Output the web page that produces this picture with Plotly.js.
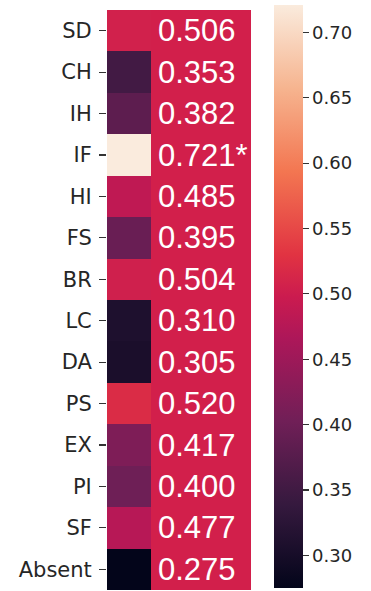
<!DOCTYPE html>
<html>
<head>
<meta charset="utf-8">
<script src="https://cdn.plot.ly/plotly-3.0.1.min.js"></script>
<style>html,body{margin:0;padding:0;background:#fff;}#chart{width:371px;height:591px;}</style>
</head>
<body>
<div id="chart"></div>
<script>
const rows = ['SD','CH','IH','IF','HI','FS','BR','LC','DA','PS','EX','PI','SF','Absent'];
const values = [0.506,0.353,0.382,0.721,0.485,0.395,0.504,0.310,0.305,0.520,0.417,0.400,0.477,0.275];
const marks = ['','','','*','','','','','','','','','',''];
const cbTicks = [0.30,0.35,0.40,0.45,0.50,0.55,0.60,0.65,0.70];

const rocket = [
  [0.0,'#03051a'],[0.1429,'#35193e'],[0.2857,'#701f57'],[0.4286,'#ad1759'],
  [0.5,'#cb1b4f'],[0.5714,'#e13342'],[0.7143,'#f37651'],[0.8571,'#f6b48f'],[1.0,'#faebdd']
];
const zmin = Math.min(...values), zmax = Math.max(...values);
const z = values.map(v => [v]);

const plotL = 107, plotR = 251, plotT = 10, plotB = 590, W = 371, H = 591;
const unit = 44; // px per left-column width
const xmax = (plotR - plotL) / unit;

const traces = [
  {
    type: 'heatmap', x: [0, 1], y: rows, z: z,
    colorscale: rocket, zmin: zmin, zmax: zmax, hoverinfo: 'skip',
    colorbar: {
      thickness: 29, thicknessmode: 'pixels',
      len: 583, lenmode: 'pixels',
      x: (274 - plotL) / (plotR - plotL), xanchor: 'left',
      y: 1 - ((5 + 588) / 2 - plotT) / (plotB - plotT), yanchor: 'middle',
      xpad: 0, ypad: 0, outlinewidth: 0,
      ticks: 'outside', ticklen: 6, tickcolor: '#333', tickwidth: 1.2,
      tickvals: cbTicks, tickformat: '.2f',
      tickfont: {family: 'DejaVu Sans', size: 18, color: '#262626'}
    }
  },
  {
    type: 'heatmap', x: [1, xmax], y: rows, z: z,
    colorscale: [[0,'#d21f4b'],[1,'#d21f4b']], showscale: false, hoverinfo: 'skip'
  }
];

const annotations = rows.map((r, i) => ({
  x: 1.12, y: r, xref: 'x', yref: 'y', xanchor: 'left', yanchor: 'middle',
  text: values[i].toFixed(3) + marks[i], showarrow: false,
  font: {family: 'Liberation Sans, Arial', size: 31, color: '#ffffff'}
}));

const layout = {
  width: W, height: H,
  margin: {l: plotL, r: W - plotR, t: plotT, b: H - plotB, pad: 0},
  paper_bgcolor: '#fff', plot_bgcolor: '#fff',
  xaxis: {range: [0, xmax], visible: false, fixedrange: true},
  yaxis: {
    type: 'category', autorange: 'reversed', showgrid: false, zeroline: false, showline: false,
    ticks: 'outside', ticklen: 7, tickcolor: '#333', tickwidth: 1.2, ticklabelstandoff: 3,
    tickfont: {family: 'DejaVu Sans', size: 21, color: '#262626'}
  },
  annotations: annotations,
  showlegend: false
};

Plotly.newPlot('chart', traces, layout, {staticPlot: true, displayModeBar: false});
</script>
</body>
</html>
